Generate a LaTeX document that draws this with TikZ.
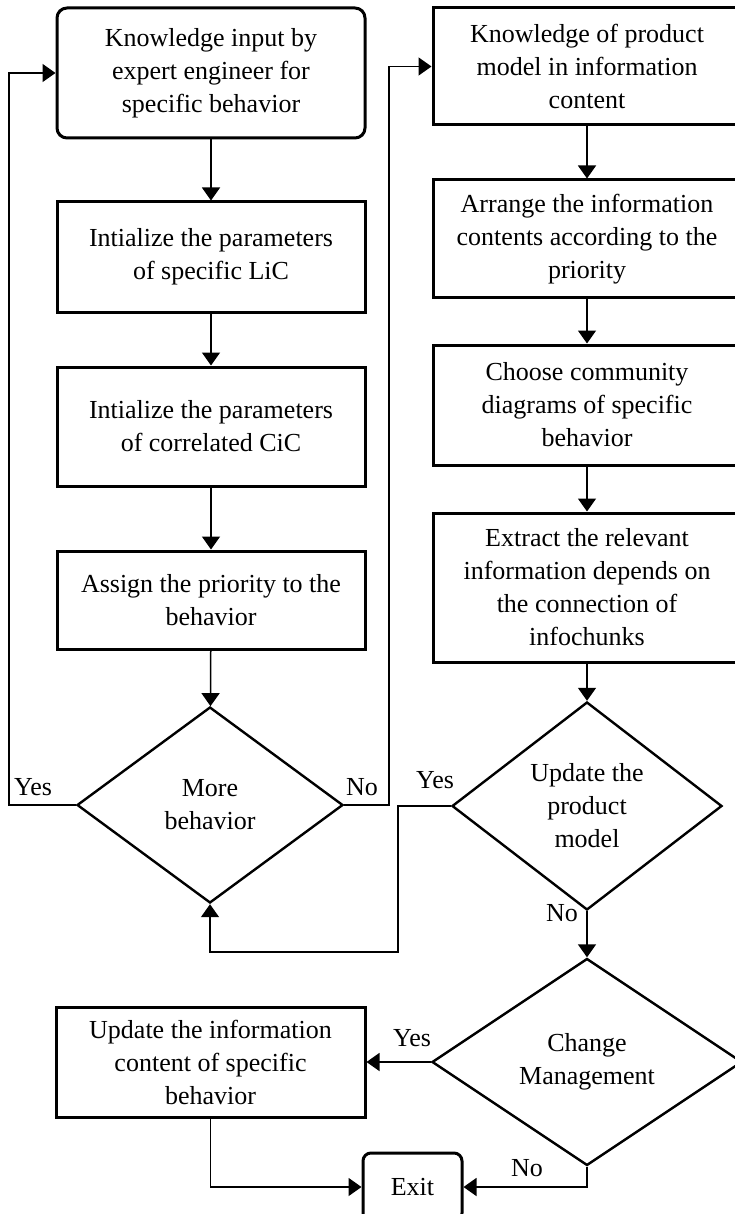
\documentclass[tikz,border=0pt]{standalone}
\usepackage{fontspec}
\setmainfont{Liberation Serif}
\usetikzlibrary{shapes.geometric,arrows.meta}
\begin{document}
\begin{tikzpicture}[x=1pt,y=-1pt,
  every node/.style={font=\fontsize{26}{33}\selectfont},
  box/.style={draw,line width=3pt,minimum width=308pt,inner sep=0pt,align=center},
  rbox/.style={box,rounded corners=10pt},
  dia/.style={draw,diamond,line width=2.4pt,inner sep=0pt,align=center},
  arr/.style={line width=1.5pt,-{Triangle[length=13pt,width=18pt]}},
  lbl/.style={inner sep=0pt}]
\useasboundingbox (0,0) rectangle (735,1214);
\clip (0,0) rectangle (735,1214);

% left column
\node[rbox,minimum height=130pt] (k1) at (211,73)
  {Knowledge input by\\expert engineer for\\specific behavior};
\node[box,minimum height=110pt] (k2) at (211,257)
  {Intialize the parameters\\of specific LiC};
\node[box,minimum height=119pt] (k3) at (211,426.5)
  {Intialize the parameters\\of correlated CiC};
\node[box,minimum height=98pt] (k4) at (211,600)
  {Assign the priority to the\\behavior};
\node[dia,minimum width=266pt,minimum height=196pt] (mb) at (210,805)
  {More\\behavior};

% right column
\node[box,minimum height=117pt] (r1) at (587,66.5)
  {Knowledge of product\\model in information\\content};
\node[box,minimum height=118pt] (r2) at (587,239)
  {Arrange the information\\contents according to the\\priority};
\node[box,minimum height=120pt] (r3) at (587,405)
  {Choose community\\diagrams of specific\\behavior};
\node[box,minimum height=149pt] (r4) at (587,587.5)
  {Extract the relevant\\information depends on\\the connection of\\infochunks};
\node[dia,minimum width=270pt,minimum height=208pt] (up) at (587,806)
  {Update the\\product\\model};
\node[dia,minimum width=310pt,minimum height=207pt] (cm) at (587,1062)
  {Change\\Management};

% bottom row
\node[box,minimum width=309pt,minimum height=110pt] (ui) at (210.5,1062)
  {Update the information\\content of specific\\behavior};
\node[rbox,minimum width=99pt,minimum height=68pt,rounded corners=8pt] (exit) at (412.5,1187)
  {Exit};

% loop helper
\coordinate (c1) at (398,952);

% connectors
\draw[arr] (k1) -- (k2);
\draw[arr] (k2) -- (k3);
\draw[arr] (k3) -- (k4);
\draw[arr] (k4) -- (mb);
\draw[arr] (mb.west) -- ++(-67,0) |- (k1.west);
\draw[arr] (mb.east) -- ++(45,0) |- (r1.west);
\draw[arr] (r1) -- (r2);
\draw[arr] (r2) -- (r3);
\draw[arr] (r3) -- (r4);
\draw[arr] (r4) -- (up);
\draw[arr] (up.west) -| (c1) -| (mb.south);
\draw[arr] (up.south) -- (cm.north);
\draw[arr] (cm.west) -- (ui.east);
\draw[arr] (ui.south) |- (exit.west);
\draw[arr] (cm.south) |- (exit.east);

% branch labels
\node[lbl] (y1) at (33,787) {Yes};
\node[lbl] (n1) at (362,787) {No};
\node[lbl] (y2) at (435,780) {Yes};
\node[lbl] (n2) at (562,913) {No};
\node[lbl] (y3) at (412,1038) {Yes};
\node[lbl] (n3) at (527,1168) {No};
\end{tikzpicture}
\end{document}
